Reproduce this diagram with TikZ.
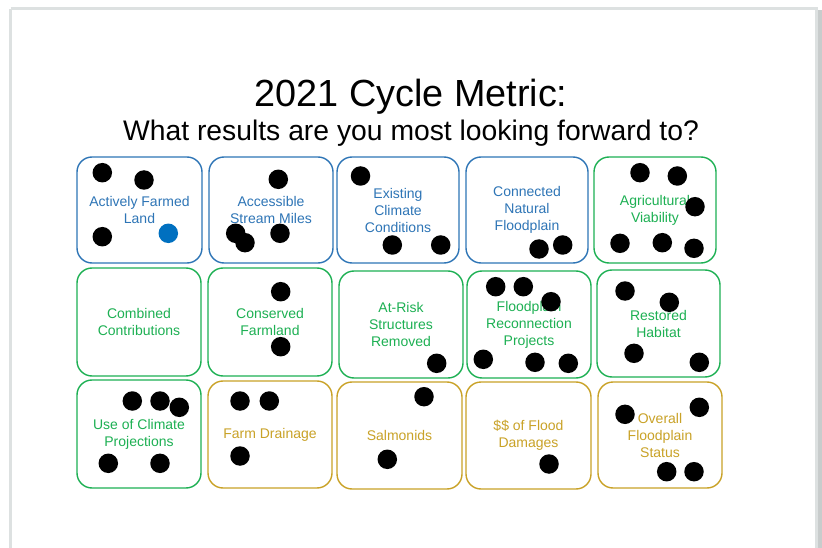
\documentclass[tikz,border=0pt]{standalone}
\usepackage{fontspec}
\setmainfont{Liberation Sans}
\definecolor{cblue}{HTML}{2E75B6}
\definecolor{cgreen}{HTML}{1DB053}
\definecolor{cgold}{HTML}{C9A227}
\definecolor{cdot}{HTML}{0070C0}
\definecolor{frame}{HTML}{DDE1E1}
\definecolor{shadow}{HTML}{C8CCCC}
\tikzset{
  card/.style={draw=#1, text=#1, line width=1.4pt, rounded corners=15pt, align=center,
    font=\fontsize{14}{17}\selectfont, inner sep=0pt},
  dot/.style={circle, fill=black, minimum size=19.5pt, inner sep=0pt},
  bluedot/.style={dot, fill=cdot},
}
\begin{document}
\begin{tikzpicture}[x=1pt,y=-1pt]
\useasboundingbox (0,0) rectangle (822,548);
\fill[white] (0,0) rectangle (822,548);
% slide frame
\fill[shadow] (817.5,10) rectangle (822,548);
\draw[frame, line width=2.8pt] (10.8,8.8) -- (816.2,8.8) -- (816.2,560) (10.8,8.8) -- (10.8,560);
% titles
\node[font=\fontsize{37.8}{40}\selectfont, anchor=base] (title) at (411,106.5) {2021 Cycle Metric:};
\node[font=\fontsize{28.3}{30}\selectfont, anchor=base] (sub) at (411,140.5) {What results are you most looking forward to?};
% row 1
\node[card=cblue, minimum width=125pt, minimum height=106pt] (b11) at (139.5,210) {Actively Farmed\\Land};
\node[card=cblue, minimum width=124pt, minimum height=106pt] (b12) at (271,210) {Accessible\\Stream Miles};
\node[card=cblue, minimum width=122pt, minimum height=106pt] (b13) at (398,210) {Existing\\Climate\\Conditions};
\node[card=cblue, minimum width=122pt, minimum height=106pt] (b14) at (527,210) {Connected\\Natural\\Floodplain};
\node[card=cgreen, minimum width=122pt, minimum height=106pt] (b15) at (655,210) {Agricultural\\Viability};
% row 2
\node[card=cgreen, minimum width=124pt, minimum height=108pt] (b21) at (139,322) {Combined\\Contributions};
\node[card=cgreen, minimum width=124pt, minimum height=108pt] (b22) at (270,322) {Conserved\\Farmland};
\node[card=cgreen, minimum width=124pt, minimum height=107pt] (b23) at (401,324.5) {At-Risk\\Structures\\Removed};
\node[card=cgreen, minimum width=124pt, minimum height=107pt] (b24) at (529,324.5) {Floodplain\\Reconnection\\Projects};
\node[card=cgreen, minimum width=123pt, minimum height=107pt] (b25) at (658.5,323.5) {Restored\\Habitat};
% row 3
\node[card=cgreen, minimum width=124pt, minimum height=108pt] (b31) at (139,434) {Use of Climate\\Projections};
\node[card=cgold, minimum width=124pt, minimum height=107pt] (b32) at (270,434.5) {Farm Drainage};
\node[card=cgold, minimum width=125pt, minimum height=107pt] (b33) at (399.5,435.5) {Salmonids};
\node[card=cgold, minimum width=125pt, minimum height=107pt] (b34) at (528.5,435.5) {\$\$ of Flood\\Damages};
\node[card=cgold, minimum width=124pt, minimum height=106pt] (b35) at (660,435) {Overall\\Floodplain\\Status};
% dots row 1
\node[dot] (d1) at (102.3,172.7) {};
\node[dot] (d2) at (144,180) {};
\node[dot] (d3) at (102.3,236.7) {};
\node[bluedot] (d4) at (168.3,233.3) {};
\node[dot] (d5) at (278.3,179.3) {};
\node[dot] (d6) at (235.7,233.3) {};
\node[dot] (d7) at (245,242.7) {};
\node[dot] (d8) at (280,233.3) {};
\node[dot] (d9) at (360.5,176) {};
\node[dot] (d10) at (392.3,245) {};
\node[dot] (d11) at (440.7,245) {};
\node[dot] (d12) at (539,249) {};
\node[dot] (d13) at (562.7,245) {};
\node[dot] (d14) at (640,172.7) {};
\node[dot] (d15) at (677.3,176) {};
\node[dot] (d16) at (695,206.7) {};
\node[dot] (d17) at (620,243.3) {};
\node[dot] (d18) at (662.3,242.7) {};
\node[dot] (d19) at (694,248.3) {};
% dots row 2
\node[dot] (d20) at (280.7,291.7) {};
\node[dot] (d21) at (280.7,346.7) {};
\node[dot] (d22) at (436.7,363.3) {};
\node[dot] (d23) at (495.7,286.7) {};
\node[dot] (d24) at (523.3,286.7) {};
\node[dot] (d25) at (551,301.7) {};
\node[dot] (d26) at (483.3,359.3) {};
\node[dot] (d27) at (535,362.3) {};
\node[dot] (d28) at (568.3,363.3) {};
\node[dot] (d29) at (625,291) {};
\node[dot] (d30) at (669.3,302.3) {};
\node[dot] (d31) at (634,353.3) {};
\node[dot] (d32) at (699.3,362.3) {};
% dots row 3
\node[dot] (d33) at (132.3,401) {};
\node[dot] (d34) at (160,401) {};
\node[dot] (d35) at (179.3,407.3) {};
\node[dot] (d36) at (108.3,463.3) {};
\node[dot] (d37) at (160,463.3) {};
\node[dot] (d38) at (240,401) {};
\node[dot] (d39) at (269.3,401) {};
\node[dot] (d40) at (240,456) {};
\node[dot] (d41) at (424,396.7) {};
\node[dot] (d42) at (387.3,459.3) {};
\node[dot] (d43) at (549,464) {};
\node[dot] (d44) at (625,414.3) {};
\node[dot] (d45) at (699.3,407.3) {};
\node[dot] (d46) at (666.7,471.7) {};
\node[dot] (d47) at (694,471.7) {};
\end{tikzpicture}
\end{document}
